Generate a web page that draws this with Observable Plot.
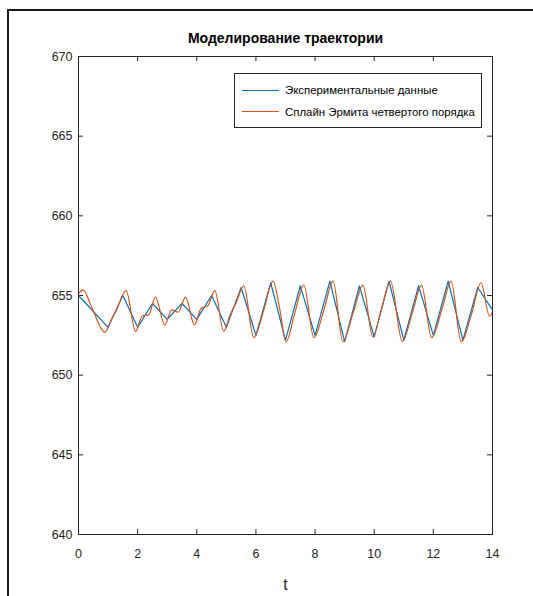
<!DOCTYPE html>
<html>
<head>
<meta charset="utf-8">
<script src="https://cdn.jsdelivr.net/npm/d3@7"></script>
<script src="https://cdn.jsdelivr.net/npm/@observablehq/plot@0.6"></script>
<style>
  html, body { margin: 0; padding: 0; background: #fff; overflow: hidden; }
  #fig { position: relative; width: 533px; height: 596px; }
  #fig svg { position: absolute; left: 0; top: 0; }
  .figframe {
    position: absolute; left: 7px; top: 9px; width: 700px; height: 700px;
    border-left: 2px solid #1a1a1a; border-top: 2px solid #1a1a1a;
    pointer-events: none; z-index: 2;
  }
  .legend {
    position: absolute; left: 234px; top: 73px; width: 246px; height: 53px;
    border: 1px solid #262626; background: #fff; z-index: 3;
    font-family: "Liberation Sans", Arial, sans-serif;
    font-size: 11.4px; color: #000; white-space: nowrap;
  }
  .legend .row { position: absolute; left: 0; height: 16px; display: flex; align-items: center; }
  .legend .sw { width: 37px; height: 0; border-top: 1.3px solid; margin-left: 7px; margin-right: 6px; }
</style>
</head>
<body>
<div id="fig">
  <div class="figframe"></div>
</div>
<script>
// Experimental trajectory samples (time, value)
const expT = [0, 1, 1.5, 2, 2.5, 3, 3.5, 4, 4.5, 5, 5.5, 6, 6.5, 7, 7.5, 8, 8.5, 9, 9.5, 10, 10.5, 11, 11.5, 12, 12.5, 13, 13.5, 14];
const expV = [655, 653, 655, 653, 654.5, 653.5, 654.5, 653.5, 655, 653, 655.5, 652.5, 655.8, 652.2, 655.6, 652.5, 655.9, 652.1, 655.6, 652.4, 655.9, 652.2, 655.6, 652.5, 655.9, 652.2, 655.5, 654.1];

// Fourth-order Hermite spline, sampled at its turning points and shoulders
const splT = [0, 0.15, 0.46, 0.89, 1.14, 1.25, 1.61, 1.93, 2.15, 2.38, 2.6, 2.92, 3.15, 3.37, 3.62, 3.92, 4.15, 4.37, 4.61, 4.91, 5.12, 5.34, 5.59, 5.93, 6.25, 6.58, 6.8, 7.02, 7.3, 7.62, 7.96, 8.3, 8.61, 8.94, 9.3, 9.62, 9.95, 10.25, 10.55, 10.95, 11.3, 11.6, 11.94, 12.3, 12.6, 12.94, 13.3, 13.61, 13.9, 14];
const splV = [655.1, 655.35, 654.2, 652.7, 653.6, 653.95, 655.3, 652.75, 653.7, 653.8, 654.9, 653.15, 654.1, 653.95, 654.9, 653.15, 654.2, 654.35, 655.3, 652.75, 653.75, 654.6, 655.6, 652.35, 654.0, 655.9, 654.2, 652.1, 653.8, 655.65, 652.35, 654.1, 655.9, 652.1, 654.0, 655.65, 652.4, 654.2, 655.9, 652.1, 654.0, 655.65, 652.35, 654.2, 655.9, 652.1, 653.9, 655.8, 653.7, 653.95];

const seriesNames = ["Экспериментальные данные", "Сплайн Эрмита четвертого порядка"];
const seriesColors = ["#0072BD", "#D95319"];

const xTicks = [0, 2, 4, 6, 8, 10, 12, 14];
const yTicks = [640, 645, 650, 655, 660, 665, 670];
const titleText = "Моделирование траектории";
const xLabel = "t";

const expData = expT.map((t, i) => ({t, v: expV[i]}));
const splData = splT.map((t, i) => ({t, v: splV[i]}));

const W = 533, H = 596;
const mL = 78, mR = 41, mT = 56, mB = 62;
const innerW = W - mL - mR, innerH = H - mT - mB;
const tick = 5;
const ink = "#262626";

const chart = Plot.plot({
  width: W,
  height: H,
  marginLeft: mL,
  marginRight: mR,
  marginTop: mT,
  marginBottom: mB,
  style: {fontFamily: "'Liberation Sans', Arial, sans-serif", fontSize: "12.5px", color: ink, background: "transparent", overflow: "visible"},
  x: {domain: [0, 14]},
  y: {domain: [640, 670]},
  marks: [
    Plot.axisX({ticks: xTicks, tickSize: 0, tickPadding: 15, label: null}),
    Plot.axisY({ticks: yTicks, tickSize: 0, tickPadding: 6, label: null}),
    // inward ticks on all four sides
    Plot.tickX(xTicks, {x: d => d, stroke: ink, insetTop: innerH - tick}),
    Plot.tickX(xTicks, {x: d => d, stroke: ink, insetBottom: innerH - tick}),
    Plot.tickY(yTicks, {y: d => d, stroke: ink, insetRight: innerW - tick}),
    Plot.tickY(yTicks, {y: d => d, stroke: ink, insetLeft: innerW - tick}),
    Plot.line(expData, {x: "t", y: "v", stroke: seriesColors[0], strokeWidth: 1.2}),
    Plot.line(splData, {x: "t", y: "v", stroke: seriesColors[1], strokeWidth: 1.2, curve: "monotone-x"}),
    Plot.frame({stroke: ink}),
    Plot.text([titleText], {frameAnchor: "top", lineAnchor: "bottom", dy: -14, fontSize: 14, fontWeight: "bold", fill: "#000"}),
    Plot.text([xLabel], {frameAnchor: "bottom", lineAnchor: "bottom", dy: 55, fontSize: 16, fill: ink})
  ]
});

const fig = document.getElementById("fig");
fig.appendChild(chart);

// legend box
const legend = document.createElement("div");
legend.className = "legend";
seriesNames.forEach((name, i) => {
  const row = document.createElement("div");
  row.className = "row";
  row.style.top = (8 + i * 21.5) + "px";
  const sw = document.createElement("span");
  sw.className = "sw";
  sw.style.borderTopColor = seriesColors[i];
  const label = document.createElement("span");
  label.textContent = name;
  row.appendChild(sw);
  row.appendChild(label);
  legend.appendChild(row);
});
fig.appendChild(legend);
</script>
</body>
</html>
